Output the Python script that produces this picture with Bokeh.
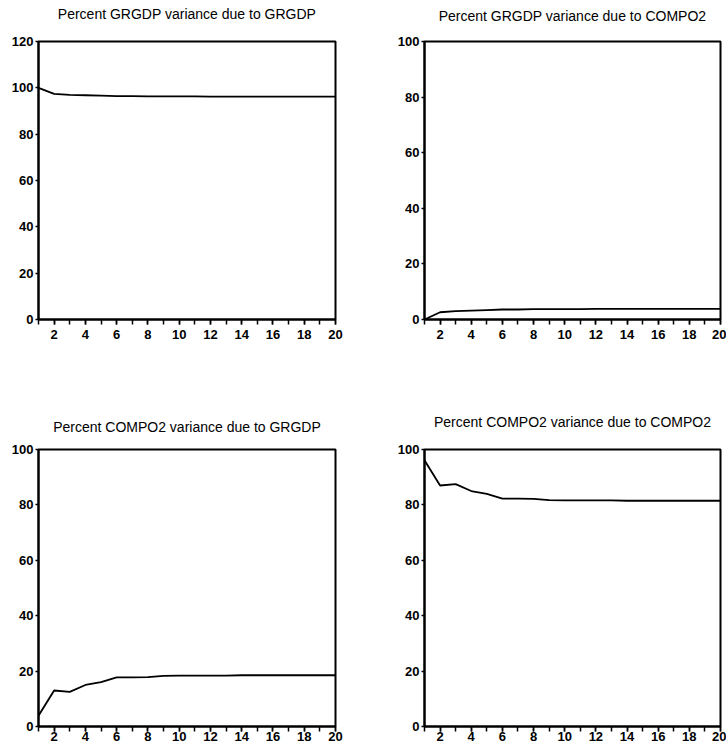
from bokeh.plotting import figure
from bokeh.layouts import column, row
from bokeh.models import FixedTicker, Range1d, LinearAxis
from bokeh.embed import file_html
from bokeh.resources import INLINE

periods = list(range(1, 21))

grgdp_due_grgdp = [100.0, 97.4, 97.0, 96.8, 96.6, 96.4, 96.4, 96.3, 96.3, 96.3,
                   96.3, 96.2, 96.2, 96.2, 96.2, 96.2, 96.2, 96.2, 96.2, 96.2]
grgdp_due_compo2 = [0.0, 2.6, 3.0, 3.2, 3.4, 3.6, 3.6, 3.7, 3.7, 3.7,
                    3.7, 3.8, 3.8, 3.8, 3.8, 3.8, 3.8, 3.8, 3.8, 3.8]
compo2_due_grgdp = [3.9, 13.0, 12.5, 15.0, 16.0, 17.7, 17.7, 17.8, 18.3, 18.4,
                    18.4, 18.4, 18.4, 18.5, 18.5, 18.5, 18.5, 18.5, 18.5, 18.5]
compo2_due_compo2 = [96.1, 87.0, 87.5, 85.0, 84.0, 82.3, 82.3, 82.2, 81.7, 81.6,
                     81.6, 81.6, 81.6, 81.5, 81.5, 81.5, 81.5, 81.5, 81.5, 81.5]

titles = ["Percent GRGDP variance due to GRGDP",
          "Percent GRGDP variance due to COMPO2",
          "Percent COMPO2 variance due to GRGDP",
          "Percent COMPO2 variance due to COMPO2"]
x_tick_labels = [2, 4, 6, 8, 10, 12, 14, 16, 18, 20]
y_ticks_120 = [0, 20, 40, 60, 80, 100, 120]
y_ticks_100 = [0, 20, 40, 60, 80, 100]

FONT = "Liberation Sans"


def make(title, values, ymax, yticks, mb_left, mb_right, mb_top, mb_bottom,
         fw, fh, xstandoff, t_standoff):
    p = figure(frame_width=fw, frame_height=fh,
               x_range=Range1d(1, 20), y_range=Range1d(0, ymax),
               output_backend="svg", toolbar_location=None,
               min_border_left=mb_left, min_border_right=mb_right,
               min_border_top=mb_top, min_border_bottom=mb_bottom)
    p.xgrid.visible = False
    p.ygrid.visible = False
    p.outline_line_color = "black"
    p.outline_line_width = 2
    p.outline_line_alpha = 1
    p.background_fill_color = "white"
    p.border_fill_color = "white"

    xa = p.below[0]
    xa.ticker = FixedTicker(ticks=x_tick_labels, minor_ticks=periods)
    xa.major_tick_out = 5
    xa.major_tick_in = 0
    xa.minor_tick_out = 5
    xa.minor_tick_in = 0
    xa.major_tick_line_width = 1.5
    xa.minor_tick_line_width = 1.5
    xa.major_tick_line_color = "black"
    xa.minor_tick_line_color = "black"
    xa.axis_line_width = 2
    xa.axis_line_color = "black"
    xa.major_label_standoff = xstandoff
    xa.major_label_text_font = FONT
    xa.major_label_text_font_style = "bold"
    xa.major_label_text_font_size = "13px"
    xa.major_label_text_color = "black"

    ya = p.left[0]
    ya.ticker = FixedTicker(ticks=yticks)
    ya.major_tick_out = 3
    ya.major_tick_in = 0
    ya.minor_tick_line_color = None
    ya.major_tick_line_width = 1.5
    ya.major_tick_line_color = "black"
    ya.axis_line_width = 2
    ya.axis_line_color = "black"
    ya.major_label_standoff = 2
    ya.major_label_text_font = FONT
    ya.major_label_text_font_style = "bold"
    ya.major_label_text_font_size = "13px"
    ya.major_label_text_color = "black"

    # panel title: an empty axis above the frame carrying the title as its label
    top = LinearAxis(axis_label=title, ticker=FixedTicker(ticks=[]),
                     axis_line_color=None, major_tick_line_color=None,
                     minor_tick_line_color=None, major_tick_out=0,
                     major_tick_in=0, minor_tick_out=0, minor_tick_in=0,
                     major_label_standoff=0,
                     major_label_text_font_size="0px",
                     axis_label_standoff=t_standoff,
                     axis_label_text_font=FONT,
                     axis_label_text_font_style="normal",
                     axis_label_text_font_size="14px",
                     axis_label_text_color="black")
    p.add_layout(top, "above")

    p.line(periods, values, line_color="black", line_width=1.8)
    return p


p1 = make(titles[0], grgdp_due_grgdp, 120, y_ticks_120, 38, 36, 41, 61, 297, 278, 5, 20)
p2 = make(titles[1], grgdp_due_compo2, 100, y_ticks_100, 53, 6, 41, 61, 296, 278, 5, 18)
p3 = make(titles[2], compo2_due_grgdp, 100, y_ticks_100, 38, 36, 69, 24, 297, 277, 0, 15)
p4 = make(titles[3], compo2_due_compo2, 100, y_ticks_100, 53, 6, 69, 24, 296, 277, 0, 20)

layout = column(row(p1, p2), row(p3, p4))

open("out.html", "w").write(file_html(layout, INLINE))
